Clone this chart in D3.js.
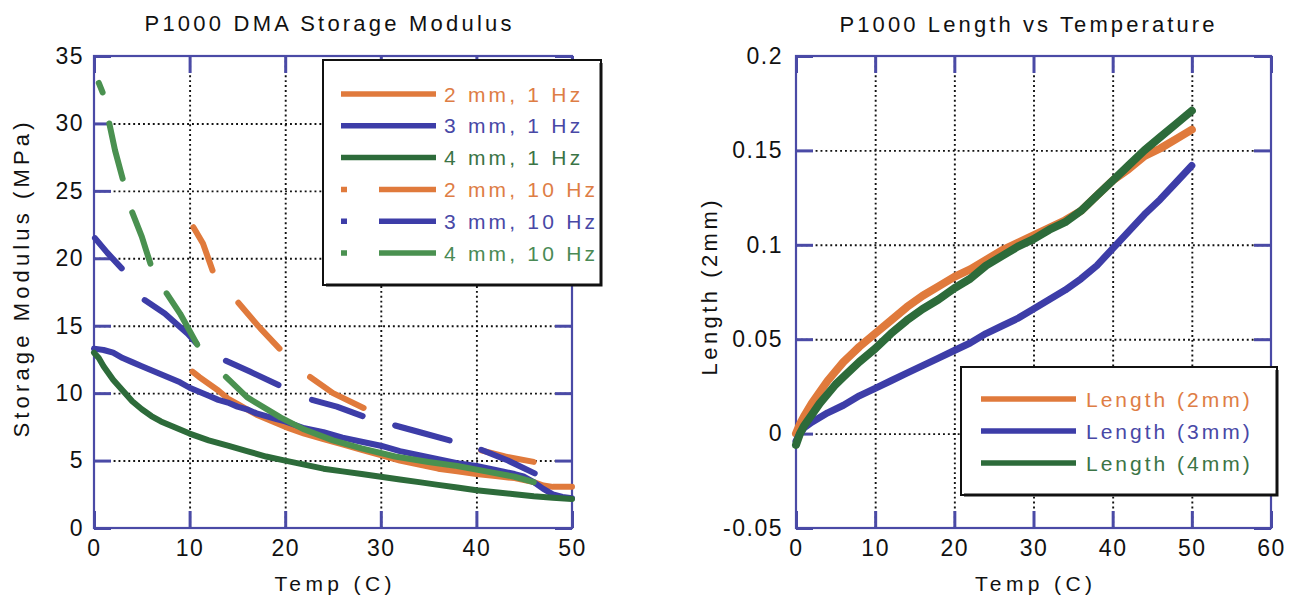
<!DOCTYPE html>
<html><head><meta charset="utf-8">
<script src="https://cdn.jsdelivr.net/npm/d3@7/dist/d3.min.js"></script>
<style>
body{margin:0;background:#fff;}
svg{display:block;font-family:"Liberation Sans",Arial,Helvetica,sans-serif;}
</style></head><body>
<svg id="chart" width="1292" height="603"></svg>
<script>
// ---------------- data ----------------
const dmaTicksX = [0, 10, 20, 30, 40, 50];
const dmaTicksY = [0, 5, 10, 15, 20, 25, 30, 35];
const lenTicksX = [0, 10, 20, 30, 40, 50, 60];
const lenTicksY = [-0.05, 0, 0.05, 0.1, 0.15, 0.2];

const dmaLegend = ["2 mm, 1 Hz", "3 mm, 1 Hz", "4 mm, 1 Hz", "2 mm, 10 Hz", "3 mm, 10 Hz", "4 mm, 10 Hz"];
const lenLegend = ["Length (2mm)", "Length (3mm)", "Length (4mm)"];

// Storage modulus (MPa) vs Temp (C); null = gap between dashes
const mod2mm1Hz = [[10.3,11.6],[11,11.2],[12,10.7],[13,10.2],[14,9.6],[15,9.2],[16,8.8],[17,8.4],[18,8.1],[19,7.8],[20,7.5],[22,7.0],[24,6.6],[26,6.2],[28,5.8],[30,5.4],[32,5.0],[34,4.7],[36,4.4],[38,4.2],[40,4.0],[42,3.85],[44,3.7],[46,3.4],[47,3.15],[48,3.05],[50,3.05]];
const mod3mm1Hz = [[0,13.3],[1,13.2],[2,13.0],[3,12.6],[4,12.3],[5,12.0],[6,11.7],[7,11.4],[8,11.1],[9,10.8],[10,10.4],[11,10.1],[12,9.8],[13,9.5],[14,9.3],[15,9.0],[16,8.8],[17,8.5],[18,8.3],[19,8.1],[20,7.9],[22,7.4],[24,7.1],[26,6.7],[28,6.4],[30,6.1],[32,5.7],[34,5.4],[36,5.1],[38,4.8],[40,4.6],[42,4.3],[44,4.0],[45,3.8],[46,3.4],[47,2.9],[48,2.5],[49,2.3],[50,2.2]];
const mod4mm1Hz = [[0,13.0],[0.5,12.6],[1,12.0],[2,11.0],[3,10.2],[4,9.4],[5,8.8],[6,8.3],[7,7.9],[8,7.6],[9,7.3],[10,7.0],[12,6.5],[14,6.1],[16,5.7],[18,5.3],[20,5.0],[22,4.7],[24,4.4],[26,4.2],[28,4.0],[30,3.8],[32,3.6],[34,3.4],[36,3.2],[38,3.0],[40,2.8],[42,2.65],[44,2.5],[46,2.35],[48,2.25],[50,2.15]];
const mod2mm10Hz = [[10.4,22.3],[11.4,21.1],[12.4,19.1],null,[15.1,16.7],[17.4,14.8],[19.4,13.3],null,[22.6,11.2],[25,10.0],[28.2,8.9],null,[40.5,5.75],[43,5.3],[46,4.9]];
const mod3mm10Hz = [[0.1,21.5],[1.4,20.4],[2.9,19.25],null,[5.3,16.9],[7.4,15.9],[9.8,14.4],[10.7,13.7],null,[13.8,12.4],[16.3,11.6],[19.3,10.6],null,[22.8,9.5],[25.4,9.0],[28.1,8.3],null,[31.5,7.6],[34.1,7.1],[37.2,6.5],null,[40.5,5.8],[43.3,5.0],[46.1,4.05]];
const mod4mm10Hz = [[0.5,33.0],[0.9,32.3],null,[1.6,30.0],[2.2,28.0],[3.0,25.9],null,[4.0,23.4],[5.0,21.6],[5.9,19.6],null,[7.6,17.4],[9.0,15.9],[10.8,13.6],null,[13.8,11.2],[16.0,9.7],[19.5,8.2],[22,7.3],[25,6.5],[28,5.9],[31.5,5.3],[35,4.9],[38,4.6],[41,4.2],[44,3.8],[46,3.4]];

// Length vs Temp
const len2mm = [[0,0],[0.5,0.005],[1,0.009],[2,0.016],[3,0.022],[4,0.028],[5,0.033],[6,0.038],[7,0.042],[8,0.046],[10,0.053],[12,0.060],[14,0.067],[16,0.073],[18,0.078],[20,0.083],[22,0.087],[24,0.092],[26,0.097],[28,0.101],[30,0.105],[32,0.109],[34,0.113],[36,0.118],[38,0.126],[40,0.134],[42,0.140],[44,0.147],[46,0.151],[48,0.156],[50,0.161]];
const len3mm = [[0,-0.004],[0.5,0.0],[1,0.003],[2,0.006],[4,0.011],[6,0.015],[8,0.020],[10,0.024],[12,0.028],[14,0.032],[16,0.036],[18,0.040],[20,0.044],[22,0.048],[24,0.053],[26,0.057],[28,0.061],[30,0.066],[32,0.071],[34,0.076],[36,0.082],[38,0.089],[40,0.098],[42,0.107],[44,0.116],[46,0.124],[48,0.133],[50,0.142]];
const len4mm = [[0,-0.006],[0.5,0.0],[1,0.004],[2,0.010],[3,0.016],[4,0.021],[5,0.026],[6,0.030],[8,0.038],[10,0.045],[12,0.053],[14,0.060],[16,0.066],[18,0.071],[20,0.077],[22,0.082],[24,0.089],[26,0.094],[28,0.099],[30,0.103],[32,0.108],[34,0.112],[36,0.118],[38,0.126],[40,0.134],[42,0.142],[44,0.150],[46,0.157],[48,0.164],[50,0.171]];

// ---------------- drawing ----------------
const svg = d3.select('#chart');
const FRAME = '#4a4aa6';
const C = {orange:'#e07a3c', blue:'#3d3da8', dgreen:'#2d6b3a', green:'#4a9150'};
const T = {orange:'#de7d45', blue:'#4848a6', dgreen:'#3b7446', green:'#4a8a55'};

function panel(o){
  const x = d3.scaleLinear().domain(o.xDomain).range([o.left, o.right]);
  const y = d3.scaleLinear().domain(o.yDomain).range([o.bottom, o.top]);
  const g = svg.append('g');
  const H = o.bottom - o.top, W = o.right - o.left;

  // dotted grid
  const grid = g.append('g');
  grid.call(d3.axisBottom(x).tickValues(o.xTicks.slice(1,-1)).tickSize(-H).tickFormat(''))
      .attr('transform', `translate(0,${o.bottom})`);
  const gy = g.append('g').call(d3.axisLeft(y).tickValues(o.yTicks.slice(1,-1)).tickSize(-W).tickFormat(''))
      .attr('transform', `translate(${o.left},0)`);
  [grid, gy].forEach(a => {
    a.select('.domain').remove();
    a.selectAll('line').attr('stroke','#111').attr('stroke-width',1.9).attr('stroke-dasharray','1.9 3');
  });

  // inward ticks on all four sides
  const TS = 17;
  const axB = g.append('g').attr('transform',`translate(0,${o.bottom})`)
    .call(d3.axisBottom(x).tickValues(o.xTicks).tickSize(-TS).tickSizeOuter(0).tickPadding(12).tickFormat(o.xFmt));
  const axT = g.append('g').attr('transform',`translate(0,${o.top})`)
    .call(d3.axisTop(x).tickValues(o.xTicks).tickSize(-TS).tickSizeOuter(0).tickFormat(''));
  const axL = g.append('g').attr('transform',`translate(${o.left},0)`)
    .call(d3.axisLeft(y).tickValues(o.yTicks).tickSize(-TS).tickSizeOuter(0).tickPadding(o.yPad).tickFormat(o.yFmt));
  const axR = g.append('g').attr('transform',`translate(${o.right},0)`)
    .call(d3.axisRight(y).tickValues(o.yTicks).tickSize(-TS).tickSizeOuter(0).tickFormat(''));
  [axB, axT, axL, axR].forEach(a => {
    a.select('.domain').remove();
    a.selectAll('line').attr('stroke', FRAME).attr('stroke-width', 3);
    a.selectAll('text').attr('font-size', 23).attr('fill', '#111')
      .attr('font-family','"Liberation Sans",Arial,sans-serif').attr('letter-spacing', 1.5);
  });

  // frame
  g.append('rect').attr('x', o.left).attr('y', o.top).attr('width', W).attr('height', H)
    .attr('fill','none').attr('stroke', FRAME).attr('stroke-width', 2.2);

  // series
  const line = d3.line().defined(d => d !== null).x(d => x(d[0])).y(d => y(d[1]));
  o.series.forEach(s => {
    g.append('path').datum(s.data).attr('d', line).attr('fill','none')
      .attr('stroke', s.color).attr('stroke-width', s.width || 6)
      .attr('stroke-linecap','round').attr('stroke-linejoin','round');
  });

  // titles / labels
  g.append('text').attr('x', o.titleX).attr('y', o.titleY).attr('text-anchor','middle')
    .attr('font-size', 22).attr('fill','#111').attr('textLength', o.titleLen).attr('lengthAdjust','spacing')
    .text(o.title);
  g.append('text').attr('x', (o.left+o.right)/2).attr('y', 591).attr('text-anchor','middle')
    .attr('font-size', 21).attr('fill','#111').attr('textLength', 117).attr('lengthAdjust','spacing')
    .text(o.xLabel);
  g.append('text').attr('transform', `translate(${o.yLabX},${o.yLabY}) rotate(-90)`).attr('text-anchor','middle')
    .attr('font-size', 22).attr('fill','#111').attr('textLength', o.yLabLen).attr('lengthAdjust','spacing')
    .text(o.yLabel);

  // legend
  const L = o.legend;
  const lg = g.append('g');
  lg.append('rect').attr('x', L.x).attr('y', L.y).attr('width', L.w).attr('height', L.h)
    .attr('fill','#fff').attr('stroke','#111').attr('stroke-width', 2);
  lg.append('path').attr('d', `M${L.x+L.w},${L.y+3}V${L.y+L.h}H${L.x+3}`).attr('fill','none')
    .attr('stroke','#111').attr('stroke-width',3);
  L.items.forEach((it, i) => {
    const yy = L.row0 + i * L.step;
    lg.append('line').attr('x1', L.lx1).attr('x2', L.lx2).attr('y1', yy).attr('y2', yy)
      .attr('stroke', it.color).attr('stroke-width', 5.5)
      .attr('stroke-dasharray', it.dash || null);
    lg.append('text').attr('x', L.tx).attr('y', yy + 7.5).attr('font-size', 21)
      .attr('letter-spacing', L.ls).attr('fill', it.tcolor).text(it.label);
  });
}

panel({
  left: 94, right: 572, top: 56, bottom: 528,
  xDomain: [0, 50], yDomain: [0, 35], xTicks: dmaTicksX, yTicks: dmaTicksY,
  xFmt: d => String(d), yFmt: d => String(d), yPad: 10,
  title: 'P1000 DMA Storage Modulus', titleX: 328, titleY: 31, titleLen: 367,
  xLabel: 'Temp (C)', yLabel: 'Storage Modulus (MPa)', yLabX: 29, yLabY: 280, yLabLen: 315,
  series: [
    {data: mod2mm1Hz, color: C.orange},
    {data: mod3mm1Hz, color: C.blue},
    {data: mod4mm1Hz, color: C.dgreen},
    {data: mod2mm10Hz, color: C.orange},
    {data: mod3mm10Hz, color: C.blue},
    {data: mod4mm10Hz, color: C.green}
  ],
  legend: {x: 323, y: 60, w: 278, h: 225, row0: 94, step: 31.8, lx1: 341, lx2: 436, tx: 444, ls: 3.2,
    items: [
      {label: dmaLegend[0], color: C.orange, tcolor: T.orange},
      {label: dmaLegend[1], color: C.blue, tcolor: T.blue},
      {label: dmaLegend[2], color: C.dgreen, tcolor: T.dgreen},
      {label: dmaLegend[3], color: C.orange, tcolor: T.orange, dash: '6 32 57'},
      {label: dmaLegend[4], color: C.blue, tcolor: T.blue, dash: '6 32 57'},
      {label: dmaLegend[5], color: C.green, tcolor: T.green, dash: '6 32 57'}
    ]}
});

panel({
  left: 796, right: 1271, top: 56, bottom: 528,
  xDomain: [0, 60], yDomain: [-0.05, 0.2], xTicks: lenTicksX, yTicks: lenTicksY,
  xFmt: d => String(d), yFmt: d => String(d), yPad: 13,
  title: 'P1000 Length vs Temperature', titleX: 1027, titleY: 32, titleLen: 375,
  xLabel: 'Temp (C)', yLabel: 'Length (2mm)', yLabX: 717, yLabY: 288, yLabLen: 175,
  series: [
    {data: len2mm, color: C.orange, width: 8},
    {data: len3mm, color: C.blue, width: 7},
    {data: len4mm, color: C.dgreen, width: 8}
  ],
  legend: {x: 961, y: 367, w: 316, h: 128, row0: 399, step: 32, lx1: 981, lx2: 1076, tx: 1086, ls: 3,
    items: [
      {label: lenLegend[0], color: C.orange, tcolor: T.orange},
      {label: lenLegend[1], color: C.blue, tcolor: T.blue},
      {label: lenLegend[2], color: C.dgreen, tcolor: T.dgreen}
    ]}
});
</script>
</body></html>
